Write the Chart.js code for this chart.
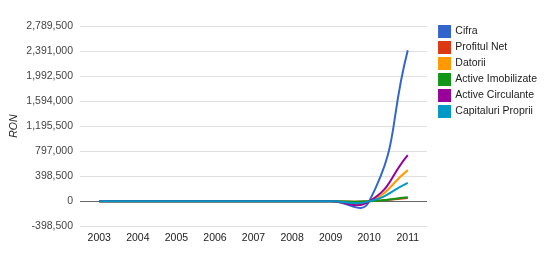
<!DOCTYPE html>
<html>
<head>
<meta charset="utf-8">
<script src="https://cdn.jsdelivr.net/npm/chart.js@4"></script>
<style>
  html, body { margin: 0; padding: 0; background: #fff; }
  #wrap { width: 557px; height: 264px; }
</style>
</head>
<body>
<div id="wrap"><canvas id="c" width="557" height="264"></canvas></div>
<script>
const years = ["2003","2004","2005","2006","2007","2008","2009","2010","2011"];
const cifra        = [0, 0, 0, 0, 0, 0, 0, 0, 2405000];
const profitulNet  = [0, 0, 0, 0, 0, 0, 0, 0, 55000];
const datorii      = [0, 0, 0, 0, 0, 0, 0, 0, 497000];
const activeImob   = [0, 0, 0, 0, 0, 0, 0, 0, 64000];
const activeCirc   = [0, 0, 0, 0, 0, 0, 0, 0, 737000];
const capitaluri   = [0, 0, 0, 0, 0, 0, 0, 0, 293000];
const yTicks = [-398500, 0, 398500, 797000, 1195500, 1594000, 1992500, 2391000, 2789500];

const FONT = "'Liberation Sans', Arial, sans-serif";

function series(label, data, color, order) {
  return { label, data, borderColor: color, backgroundColor: color,
           borderWidth: 2, pointRadius: 0, tension: 0.5, order };
}

// nudge the legend so it sits where the reference has it
const legendSpot = {
  id: "legendSpot",
  afterLayout(chart) {
    chart.legend.left = chart.chartArea.right + 7;
    chart.legend.top = 21;
  }
};

new Chart(document.getElementById("c"), {
  type: "line",
  data: {
    labels: years,
    datasets: [
      series("Cifra", cifra, "#3366cc", 6),
      series("Profitul Net", profitulNet, "#dc3912", 5),
      series("Datorii", datorii, "#ff9900", 4),
      series("Active Imobilizate", activeImob, "#109618", 3),
      series("Active Circulante", activeCirc, "#990099", 2),
      series("Capitaluri Proprii", capitaluri, "#0099c6", 1)
    ]
  },
  plugins: [legendSpot],
  options: {
    responsive: false,
    animation: false,
    layout: { padding: { top: 26, bottom: 15, left: 0, right: 17 } },
    plugins: {
      tooltip: { enabled: false },
      legend: {
        position: "right",
        align: "start",
        labels: {
          boxWidth: 11, boxHeight: 11, padding: 5, color: "#222",
          font: { family: FONT, size: 10.5 },
          sort: (a, b) => a.datasetIndex - b.datasetIndex
        }
      }
    },
    scales: {
      x: {
        offset: true,
        grid: { display: false, drawTicks: false },
        border: { display: false },
        ticks: { color: "#222", padding: 5, font: { family: FONT, size: 10.5 } }
      },
      y: {
        min: yTicks[0],
        max: yTicks[yTicks.length - 1],
        afterBuildTicks(scale) { scale.ticks = yTicks.map(v => ({ value: v })); },
        afterFit(scale) { scale.width = 80; },
        border: { display: false },
        grid: {
          drawTicks: false,
          color: ctx => ctx.tick && ctx.tick.value === 0 ? "#666" : "#e0e0e0",
          lineWidth: 1
        },
        ticks: {
          color: "#444", padding: 7, font: { family: FONT, size: 10.5 },
          callback: v => v.toLocaleString("en-US")
        },
        title: {
          display: true, text: "RON", color: "#222", padding: { top: 8, bottom: 0 },
          font: { family: FONT, size: 10.5, style: "italic" }
        }
      }
    }
  }
});
</script>
</body>
</html>
